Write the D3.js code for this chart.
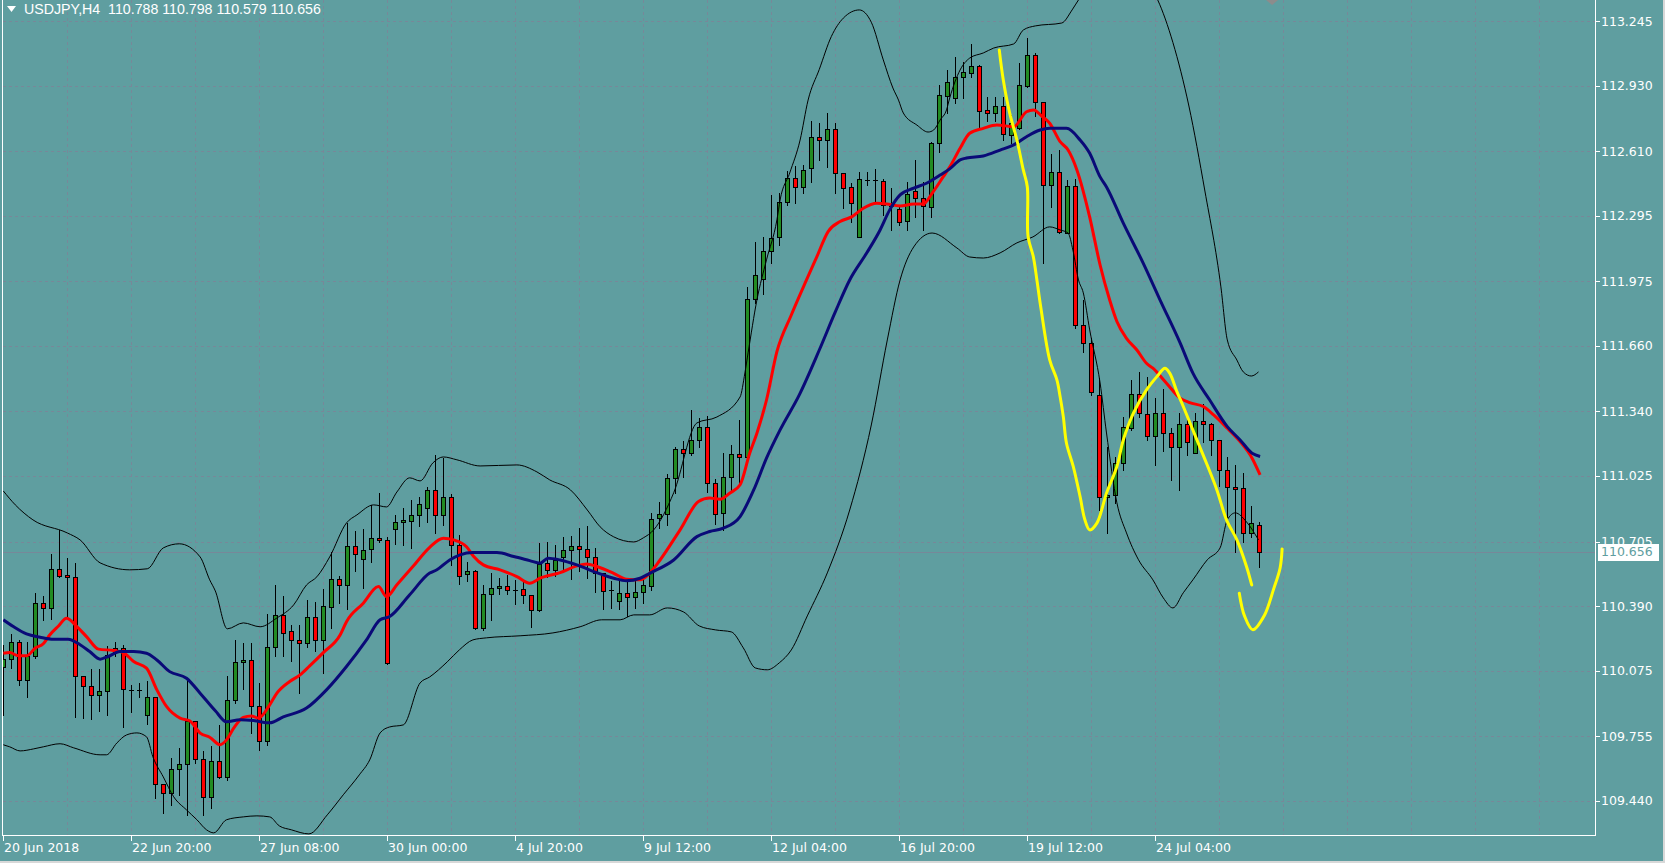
<!DOCTYPE html>
<html><head><meta charset="utf-8">
<script src="https://cdn.jsdelivr.net/npm/d3@7"></script>
<style>html,body{margin:0;padding:0;background:#5F9EA0;overflow:hidden}</style>
</head><body>
<svg id="c" width="1665" height="863"></svg>
<script>
const symbolTitle = "USDJPY,H4  110.788 110.798 110.579 110.656";

const opens = [110.092,110.131,110.217,110.030,110.144,110.404,110.380,110.570,110.541,110.530,
110.049,110.001,109.955,109.975,110.184,110.184,109.981,109.981,109.859,109.945,
109.522,109.477,109.594,109.618,109.830,109.643,109.460,109.633,109.558,109.932,
110.118,110.127,109.900,109.729,110.189,110.347,110.266,110.225,110.212,110.336,
110.222,110.385,110.521,110.494,110.685,110.618,110.668,110.721,110.712,110.765,
110.800,110.807,110.834,110.868,110.957,110.834,110.921,110.687,110.545,110.563,
110.282,110.448,110.477,110.488,110.470,110.472,110.443,110.371,110.602,110.567,
110.628,110.664,110.684,110.668,110.628,110.553,110.470,110.417,110.453,110.436,
110.461,110.488,110.819,110.840,111.014,111.156,111.136,111.201,111.266,110.990,
110.843,111.019,111.131,111.120,111.888,111.985,112.125,112.190,112.364,112.478,
112.434,112.527,112.678,112.665,112.717,112.503,112.434,112.193,112.470,112.469,
112.465,112.343,112.327,112.271,112.416,112.381,112.340,112.649,112.880,112.869,
112.971,112.994,113.026,112.812,112.796,112.831,112.690,112.722,112.930,113.080,
112.852,112.446,112.509,112.213,112.441,111.762,111.676,111.421,110.921,110.933,
111.090,111.258,111.424,111.328,111.222,111.334,111.234,111.165,111.279,111.136,
111.294,111.279,111.201,111.055,110.973,110.965,110.746,110.788];
const highs = [110.201,110.254,110.225,110.217,110.453,110.440,110.645,110.762,110.624,110.599,
110.049,110.082,110.082,110.196,110.217,110.201,110.005,110.014,110.022,109.945,
109.522,109.648,109.696,110.038,109.830,109.684,109.709,109.810,110.049,110.225,
110.210,110.212,110.015,110.352,110.494,110.440,110.298,110.298,110.420,110.412,
110.473,110.656,110.537,110.795,110.758,110.765,110.884,110.944,110.729,110.835,
110.871,110.908,110.924,110.973,111.128,111.112,110.937,110.737,110.604,110.567,
110.494,110.550,110.526,110.542,110.518,110.518,110.443,110.700,110.703,110.687,
110.729,110.733,110.770,110.781,110.673,110.553,110.510,110.518,110.526,110.518,
110.537,110.843,110.900,111.035,111.166,111.198,111.347,111.307,111.318,111.009,
111.136,111.177,111.299,111.946,112.169,112.190,112.397,112.407,112.515,112.538,
112.543,112.759,112.747,112.796,112.747,112.503,112.454,112.511,112.511,112.522,
112.473,112.431,112.348,112.462,112.568,112.462,112.657,112.934,113.007,113.072,
113.047,113.134,113.031,112.877,112.877,112.877,112.787,113.042,113.162,113.088,
112.852,112.597,112.616,112.470,112.473,111.884,111.697,111.502,111.168,111.120,
111.315,111.494,111.535,111.510,111.405,111.449,111.258,111.331,111.307,111.334,
111.377,111.283,111.201,111.117,111.079,111.042,110.879,110.798];
const lows = [109.859,110.087,110.005,109.948,110.136,110.323,110.326,110.530,110.331,109.851,
109.843,109.838,109.880,109.859,110.144,109.802,109.875,109.948,109.815,109.452,
109.379,109.420,109.469,109.371,109.625,109.371,109.404,109.553,109.542,109.916,
109.986,109.772,109.688,109.713,110.144,110.147,110.124,109.968,110.189,110.172,
110.063,110.282,110.407,110.375,110.563,110.477,110.607,110.705,110.108,110.694,
110.689,110.673,110.781,110.798,110.749,110.785,110.591,110.498,110.514,110.277,
110.273,110.323,110.449,110.449,110.401,110.404,110.287,110.368,110.531,110.537,
110.558,110.521,110.563,110.526,110.461,110.375,110.380,110.375,110.342,110.380,
110.404,110.469,110.770,110.786,110.941,111.019,111.128,111.168,110.949,110.791,
110.762,110.957,110.990,111.115,111.868,111.914,112.064,112.153,112.348,112.359,
112.408,112.462,112.568,112.535,112.408,112.332,112.267,112.190,112.446,112.356,
112.299,112.226,112.250,112.226,112.291,112.226,112.291,112.608,112.798,112.844,
112.869,112.974,112.722,112.759,112.759,112.665,112.649,112.717,112.925,112.782,
112.064,112.340,112.210,112.210,111.746,111.632,111.421,110.859,110.746,110.892,
111.055,111.250,111.315,111.201,111.079,111.149,111.006,110.955,111.128,111.136,
111.193,111.128,110.978,110.827,110.656,110.705,110.729,110.579];
const closes = [110.131,110.217,110.030,110.147,110.404,110.380,110.570,110.537,110.530,110.049,
110.001,109.957,109.975,110.152,110.167,109.985,109.981,109.981,109.948,109.521,
109.477,109.594,109.618,109.830,109.643,109.460,109.633,109.558,109.932,110.118,
110.127,109.900,109.729,110.189,110.347,110.261,110.222,110.212,110.336,110.222,
110.388,110.521,110.494,110.685,110.645,110.664,110.721,110.712,110.111,110.800,
110.811,110.835,110.889,110.957,110.834,110.921,110.687,110.537,110.563,110.282,
110.448,110.477,110.488,110.469,110.470,110.443,110.371,110.596,110.567,110.615,
110.664,110.684,110.668,110.628,110.553,110.466,110.470,110.453,110.436,110.461,
110.492,110.814,110.840,111.014,111.156,111.136,111.201,111.266,110.990,110.840,
111.019,111.131,111.120,111.888,112.005,112.125,112.185,112.364,112.478,112.434,
112.519,112.678,112.665,112.717,112.503,112.430,112.359,112.473,112.470,112.469,
112.347,112.343,112.266,112.400,112.381,112.343,112.649,112.885,112.948,112.971,
112.996,113.026,112.808,112.796,112.831,112.693,112.747,112.934,113.080,112.852,
112.446,112.507,112.218,112.441,111.762,111.676,111.437,110.921,110.933,111.090,
111.263,111.424,111.331,111.222,111.334,111.234,111.165,111.277,111.193,111.294,
111.279,111.201,111.055,110.970,110.962,110.746,110.795,110.656];

const priceTicks = [113.245,112.930,112.610,112.295,111.975,111.660,111.340,111.025,110.705,110.390,110.075,109.755,109.440];
const priceTickLabels = ["113.245","112.930","112.610","112.295","111.975","111.660","111.340","111.025","110.705","110.390","110.075","109.755","109.440"];
const timeTickIndex = [0,16,32,48,64,80,96,112,128,144];
const timeTickLabels = ["20 Jun 2018","22 Jun 20:00","27 Jun 08:00","30 Jun 00:00","4 Jul 20:00","9 Jul 12:00","12 Jul 04:00","16 Jul 20:00","19 Jul 12:00","24 Jul 04:00"];
const lastPrice = 110.656;
const lastPriceLabel = "110.656";

const redMA = [[0,110.160],[0.8,110.163],[1.9,110.147],[2.9,110.147],[4,110.185],[5,110.206],[5.8,110.249],[6.9,110.293],[7.9,110.331],[9.2,110.290],[10.4,110.241],[11.9,110.180],[13.8,110.173],[15,110.163],[16.3,110.119],[17.9,110.087],[19.2,109.981],[20.4,109.900],[22.1,109.843],[23.3,109.830],[24.6,109.770],[25.8,109.750],[27.1,109.713],[27.9,109.737],[28.8,109.794],[30,109.847],[31,109.854],[31.9,109.843],[33.3,109.908],[34.2,109.965],[35.8,110.022],[37.1,110.054],[38.3,110.098],[40,110.163],[42.1,110.249],[42.9,110.314],[45,110.404],[46.9,110.485],[47.9,110.436],[49.2,110.494],[51.2,110.583],[53.3,110.677],[55,110.721],[56.3,110.713],[57.9,110.680],[58.8,110.632],[60,110.591],[62.1,110.567],[64.2,110.534],[65.8,110.502],[67.1,110.526],[69.6,110.553],[71.7,110.586],[72.9,110.596],[74.2,110.583],[76.3,110.550],[77.9,110.521],[79.6,110.518],[80.8,110.550],[82.1,110.615],[84.6,110.762],[86.9,110.900],[88.3,110.917],[89.6,110.912],[90.8,110.941],[92.1,110.982],[93.3,111.136],[94.2,111.234],[95.4,111.396],[96.7,111.632],[98.5,111.811],[100.4,111.982],[101.7,112.096],[103.1,112.218],[104.6,112.267],[106.1,112.291],[107.5,112.332],[109.2,112.356],[110.4,112.353],[112.1,112.343],[113.8,112.353],[115,112.353],[116.1,112.405],[117.5,112.486],[118.3,112.533],[119.6,112.625],[120.8,112.698],[122.5,112.722],[124.2,112.738],[126.3,112.730],[127.9,112.803],[128.8,112.812],[129.8,112.782],[130.8,112.747],[132.1,112.657],[133.1,112.616],[134.2,112.519],[135.8,112.289],[137.1,112.055],[138.3,111.884],[139.2,111.779],[140.4,111.697],[141.7,111.640],[142.9,111.575],[143.7,111.551],[145.4,111.478],[147.1,111.405],[148.3,111.383],[150,111.364],[151.3,111.323],[153,111.258],[154.6,111.193],[156.1,111.112],[157.1,111.030]];

const navyMA = [[0,110.323],[1.25,110.290],[2.9,110.254],[4.6,110.238],[6.3,110.228],[8.1,110.228],[9.6,110.201],[10.8,110.168],[12.1,110.131],[13.1,110.144],[14.6,110.168],[16.3,110.168],[17.9,110.160],[19.2,110.127],[20.8,110.070],[22.9,110.038],[24.6,109.965],[26.5,109.879],[27.9,109.825],[29.6,109.835],[31.3,109.831],[33.3,109.820],[35,109.849],[37.9,109.892],[40.4,109.981],[42.9,110.095],[45.4,110.225],[47.1,110.323],[48.3,110.339],[50.8,110.445],[53.3,110.551],[54.2,110.567],[55.8,110.615],[57.1,110.640],[58.7,110.651],[61.7,110.651],[63.8,110.632],[65.8,110.612],[67.1,110.599],[68.1,110.624],[69.6,110.615],[71.7,110.591],[74.2,110.553],[76.3,110.526],[77.9,110.514],[79.6,110.526],[80.8,110.550],[83.8,110.615],[86.7,110.729],[88.3,110.754],[90,110.770],[92.1,110.827],[93.8,110.957],[95.4,111.112],[97.1,111.250],[99.5,111.421],[102,111.640],[104,111.826],[105.8,111.982],[107.9,112.112],[109.6,112.226],[110.8,112.324],[112.1,112.397],[113.8,112.430],[115.4,112.454],[117.1,112.494],[118.3,112.524],[119.6,112.568],[120.4,112.577],[122.5,112.587],[124.6,112.616],[126.3,112.641],[127.9,112.681],[129.6,112.714],[130.8,112.722],[132.9,112.722],[134.6,112.665],[135.8,112.600],[137.1,112.485],[137.9,112.436],[140,112.259],[142.5,112.063],[144.6,111.884],[147.1,111.675],[148.7,111.527],[150.8,111.396],[153,111.266],[154.6,111.201],[156.1,111.136],[157.1,111.120]];

const upperBand = [[0,110.952],[1.5,110.884],[3.7,110.811],[8,110.747],[9.6,110.713],[12.1,110.601],[15.8,110.567],[18,110.572],[20,110.674],[22,110.694],[24.6,110.630],[25.8,110.518],[26.5,110.464],[28,110.279],[30,110.308],[32.1,110.289],[34.2,110.332],[36.3,110.396],[37.9,110.493],[39.2,110.533],[40.8,110.630],[42.9,110.796],[44.2,110.835],[46.3,110.884],[47.9,110.874],[49.2,110.947],[50.8,111.016],[52.1,111.001],[53.7,111.089],[55,111.118],[56.7,111.104],[59.6,111.074],[64.2,111.079],[66.7,111.045],[68.3,111.006],[70.9,110.957],[73,110.859],[74.6,110.777],[76.3,110.728],[78.8,110.703],[80,110.723],[81.3,110.762],[83.8,110.943],[86.7,111.284],[89.2,111.313],[92.1,111.411],[92.7,111.528],[93.1,111.626],[94.2,111.884],[95.4,112.080],[96.7,112.275],[97.1,112.372],[98.3,112.504],[99.6,112.665],[100.6,112.860],[102,113.010],[103.5,113.170],[105,113.260],[107,113.300],[108.5,113.240],[110,113.056],[111.2,112.919],[111.9,112.860],[112.5,112.797],[114.2,112.738],[115.6,112.704],[116.3,112.714],[117.1,112.763],[117.9,112.812],[118.3,112.870],[119.6,113.007],[120.8,113.065],[122.5,113.090],[123.8,113.114],[126.3,113.134],[127.5,113.202],[129,113.222],[132.3,113.236],[133.6,113.300],[134.4,113.349],[136.5,113.45],[139.5,113.55],[142,113.48],[144.3,113.349],[146.2,113.141],[148.2,112.831],[150.2,112.416],[152.2,111.948],[153,111.689],[154.2,111.591],[155,111.533],[156,111.513],[156.9,111.533]];

const lowerBand = [[0,109.713],[0.8,109.703],[2.1,109.683],[3.8,109.693],[5,109.703],[7.1,109.718],[8.8,109.698],[12.1,109.664],[12.9,109.664],[14.2,109.722],[15.4,109.761],[16.7,109.771],[17.9,109.752],[18.7,109.654],[20,109.556],[21.3,109.459],[22.9,109.395],[24.2,109.347],[25.4,109.298],[26.3,109.283],[27.9,109.347],[30,109.361],[31.7,109.366],[33.3,109.361],[34.5,109.317],[36,109.298],[38.2,109.278],[40.5,109.371],[42.5,109.469],[44.5,109.566],[45.8,109.639],[47.1,109.771],[48.3,109.800],[50,109.810],[52.1,110.015],[53.3,110.044],[55.5,110.118],[57,110.176],[58.7,110.225],[60.4,110.235],[64.6,110.245],[68.7,110.259],[72.1,110.289],[74.8,110.323],[77.1,110.323],[78.8,110.347],[80.8,110.347],[83,110.381],[85,110.362],[87,110.293],[89,110.274],[91,110.264],[92.5,110.186],[94,110.088],[95.5,110.079],[97,110.113],[98.5,110.176],[100.5,110.342],[103,110.552],[105.8,110.859],[108.5,111.274],[110.5,111.689],[112.1,111.982],[113.8,112.143],[116.1,112.211],[119.2,112.138],[120.8,112.094],[122.5,112.089],[124.6,112.114],[126.7,112.163],[128.7,112.192],[130.8,112.241],[132.1,112.226],[133.1,112.211],[133.7,112.128],[134.4,111.982],[135,111.919],[135.8,111.738],[137.1,111.479],[137.9,111.235],[139.2,110.894],[140.4,110.747],[141.9,110.616],[143.7,110.518],[145,110.430],[146.2,110.381],[147.5,110.455],[148.7,110.518],[150.5,110.616],[152.1,110.674],[153,110.811],[154,110.845],[155.4,110.801],[156.9,110.713]];

const yellowStroke1 = [[124.5,113.104],[125.0,112.958],[125.8,112.796],[126.7,112.665],[127.5,112.519],[128.0,112.437],[128.1,112.193],[128.75,112.096],[129.2,111.982],[129.7,111.845],[130.8,111.592],[131.7,111.494],[132.1,111.413],[132.5,111.315],[132.9,111.185],[133.75,111.071],[134.6,110.924],[135.2,110.811],[135.8,110.762],[136.7,110.795],[137.9,110.941],[139.2,111.071],[140.0,111.201],[141.25,111.331],[142.9,111.445],[144.2,111.510],[145.2,111.551],[145.8,111.527],[146.7,111.437],[147.5,111.364],[149.2,111.201],[150.4,111.087],[151.7,110.957],[152.9,110.811],[154.2,110.713],[155.4,110.583],[156.05,110.493]];
const yellowStroke2 = [[154.5,110.453],[155.15,110.342],[156.2,110.274],[157.6,110.342],[158.8,110.474],[159.6,110.576],[159.85,110.669]];

// ---------- layout ----------
const plot = {left: 2, right: 1595, top: 0, bottom: 835};
const BG = "#5F9EA0";
const svg = d3.select("#c");
const x = d3.scaleLinear().domain([0, 157]).range([3.3, 1259.3]);
const y = d3.scaleLinear().domain([109.440, 113.245]).range([800.7, 21.2]);

svg.append("rect").attr("width", 1665).attr("height", 863).attr("fill", BG);
svg.append("defs").append("clipPath").attr("id", "clip")
  .append("rect").attr("x", plot.left + 1).attr("y", plot.top).attr("width", plot.right - plot.left - 1).attr("height", plot.bottom - plot.top);

// grid
const grid = svg.append("g").attr("stroke", "#778899").attr("stroke-width", 1).attr("stroke-dasharray", "3,3");
grid.selectAll("line.h").data(priceTicks).join("line").attr("class", "h")
  .attr("x1", plot.left + 1).attr("x2", plot.right)
  .attr("y1", d => Math.round(y(d)) + 0.5).attr("y2", d => Math.round(y(d)) + 0.5);
const vIdx = d3.range(8, 200, 8).filter(i => x(i) < plot.right - 2);
grid.selectAll("line.v").data(vIdx).join("line").attr("class", "v")
  .attr("x1", d => Math.round(x(d)) + 0.5).attr("x2", d => Math.round(x(d)) + 0.5)
  .attr("y1", plot.top).attr("y2", plot.bottom);

const pg = svg.append("g").attr("clip-path", "url(#clip)");

// bid line
pg.append("line").attr("x1", plot.left).attr("x2", plot.right)
  .attr("y1", Math.round(y(lastPrice)) + 0.5).attr("y2", Math.round(y(lastPrice)) + 0.5)
  .attr("stroke", "#778899").attr("stroke-width", 1);

// candles
const bars = opens.map((o, i) => ({i, o, h: highs[i], l: lows[i], c: closes[i]}));
const cg = pg.append("g");
cg.selectAll("line.wick").data(bars).join("line").attr("class", "wick")
  .attr("x1", d => Math.round(x(d.i)) + 0.5).attr("x2", d => Math.round(x(d.i)) + 0.5)
  .attr("y1", d => Math.round(y(d.h))).attr("y2", d => Math.round(y(d.l)) + 1)
  .attr("stroke", "#000").attr("stroke-width", 1);
const bodyBars = bars.filter(d => Math.abs(y(d.o) - y(d.c)) >= 1);
const dojiBars = bars.filter(d => Math.abs(y(d.o) - y(d.c)) < 1);
cg.selectAll("rect.body").data(bodyBars).join("rect").attr("class", "body")
  .attr("x", d => Math.round(x(d.i)) - 1.5)
  .attr("y", d => Math.round(y(Math.max(d.o, d.c))) + 0.5)
  .attr("width", 4)
  .attr("height", d => Math.max(1, Math.round(y(Math.min(d.o, d.c))) - Math.round(y(Math.max(d.o, d.c)))))
  .attr("fill", d => d.c > d.o ? "#228B22" : "#FF0000")
  .attr("stroke", "#000").attr("stroke-width", 1);
cg.selectAll("line.doji").data(dojiBars).join("line").attr("class", "doji")
  .attr("x1", d => Math.round(x(d.i)) - 2).attr("x2", d => Math.round(x(d.i)) + 3)
  .attr("y1", d => Math.round(y(d.c)) + 0.5).attr("y2", d => Math.round(y(d.c)) + 0.5)
  .attr("stroke", "#000").attr("stroke-width", 1);

// indicator lines
const line = d3.line().x(d => x(d[0])).y(d => y(d[1])).curve(d3.curveMonotoneX);
pg.append("path").datum(upperBand).attr("d", line).attr("fill", "none").attr("stroke", "#000").attr("stroke-width", 1);
pg.append("path").datum(lowerBand).attr("d", line).attr("fill", "none").attr("stroke", "#000").attr("stroke-width", 1);
pg.append("path").datum(redMA).attr("d", line).attr("fill", "none").attr("stroke", "#FF0000").attr("stroke-width", 3).attr("stroke-linejoin", "round");
pg.append("path").datum(navyMA).attr("d", line).attr("fill", "none").attr("stroke", "#0A0A78").attr("stroke-width", 3).attr("stroke-linejoin", "round");

// hand-drawn yellow strokes
const yline = d3.line().x(d => x(d[0])).y(d => y(d[1])).curve(d3.curveCatmullRom.alpha(0.5));
[yellowStroke1, yellowStroke2].forEach(s => {
  pg.append("path").datum(s).attr("d", yline).attr("fill", "none")
    .attr("stroke", "#FFFF00").attr("stroke-width", 3).attr("stroke-linecap", "round").attr("stroke-linejoin", "round");
});

// small grey marker at top
pg.append("path").attr("d", `M${x(158.6) - 6},0 L${x(158.6) + 6},0 L${x(158.6)},5 Z`).attr("fill", "#8c8c8c");

// frame
const fr = svg.append("g").attr("stroke", "#FFFFFF").attr("stroke-width", 1).attr("fill", "none");
fr.append("line").attr("x1", plot.left + 0.5).attr("x2", plot.left + 0.5).attr("y1", 0).attr("y2", plot.bottom + 0.5);
fr.append("line").attr("x1", plot.right + 0.5).attr("x2", plot.right + 0.5).attr("y1", 0).attr("y2", plot.bottom + 0.5);
fr.append("line").attr("x1", plot.left).attr("x2", plot.right + 1).attr("y1", plot.bottom + 0.5).attr("y2", plot.bottom + 0.5);

// right price axis
const ax = svg.append("g");
ax.selectAll("line").data(priceTicks).join("line")
  .attr("x1", plot.right + 1).attr("x2", plot.right + 5)
  .attr("y1", d => Math.round(y(d)) + 0.5).attr("y2", d => Math.round(y(d)) + 0.5)
  .attr("stroke", "#fff");
ax.selectAll("text").data(priceTicks).join("text")
  .attr("x", 1601).attr("y", d => y(d) + 4.5)
  .attr("fill", "#fff").attr("font-family", "DejaVu Sans, sans-serif").attr("font-size", 12.5)
  .text((d, k) => priceTickLabels[k]);

// last price box
const ly = y(lastPrice);
svg.append("rect").attr("x", 1598).attr("y", Math.round(ly) - 8).attr("width", 61).attr("height", 17).attr("fill", "#fff");
svg.append("text").attr("x", 1601).attr("y", ly + 4.5).attr("fill", BG)
  .attr("font-family", "DejaVu Sans, sans-serif").attr("font-size", 12.5).text(lastPriceLabel);

// time axis
const tx = svg.append("g");
tx.selectAll("line").data(timeTickIndex).join("line")
  .attr("x1", d => Math.round(x(d)) + 0.5).attr("x2", d => Math.round(x(d)) + 0.5)
  .attr("y1", plot.bottom + 1).attr("y2", plot.bottom + 6).attr("stroke", "#fff");
tx.selectAll("text").data(timeTickIndex).join("text")
  .attr("x", d => Math.round(x(d)) + 1).attr("y", 852)
  .attr("fill", "#fff").attr("font-family", "DejaVu Sans, sans-serif").attr("font-size", 12.5)
  .text((d, k) => timeTickLabels[k]);

// header
svg.append("path").attr("d", "M7,6 L16,6 L11.5,12 Z").attr("fill", "#fff");
svg.append("text").attr("x", 24).attr("y", 14).attr("fill", "#fff")
  .attr("font-family", "Liberation Sans, Arial, sans-serif").attr("font-size", 14.2)
  .attr("xml:space", "preserve").style("white-space", "pre").text(symbolTitle);

// window edges
svg.append("rect").attr("x", 1663).attr("y", 0).attr("width", 2).attr("height", 863).attr("fill", "#d8d8d8");
svg.append("rect").attr("x", 0).attr("y", 861).attr("width", 1665).attr("height", 2).attr("fill", "#d8d8d8");
</script>
</body></html>
